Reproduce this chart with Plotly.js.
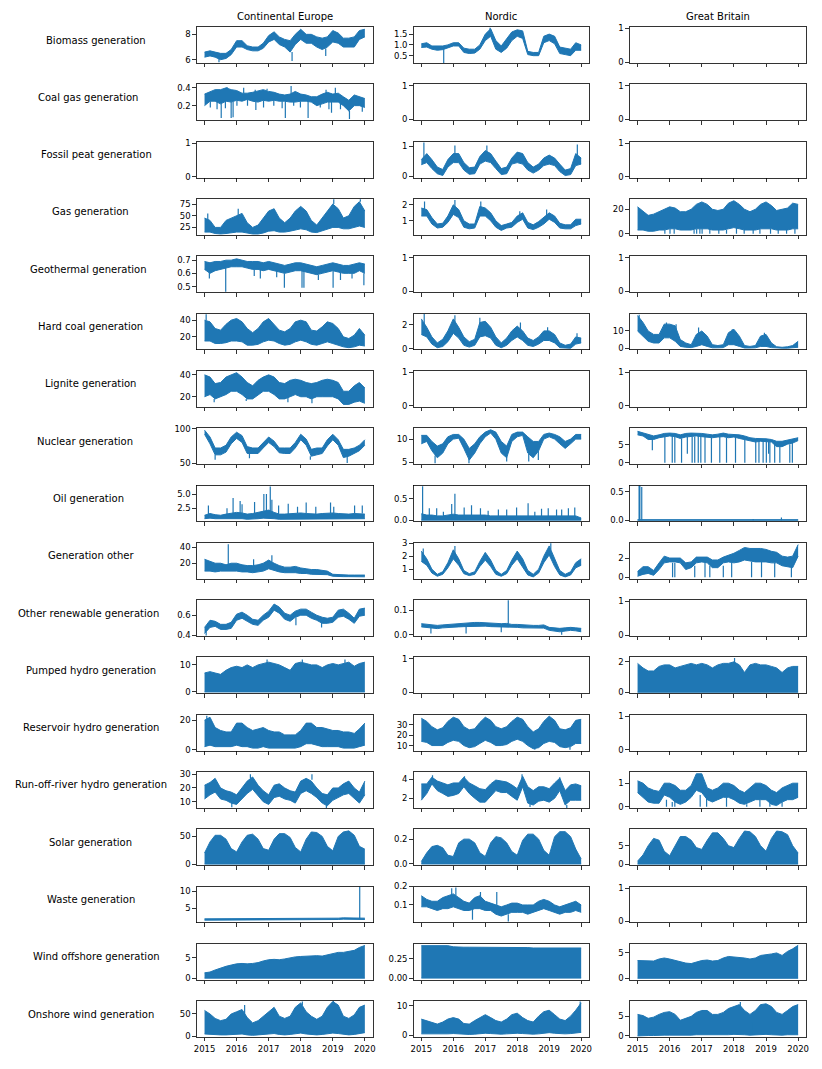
<!DOCTYPE html>
<html><head><meta charset="utf-8">
<script src="https://cdn.plot.ly/plotly-3.0.1.min.js"></script>
<style>html,body{margin:0;padding:0;background:#fff}#chart{width:822px;height:1069px}</style>
</head><body><div id="chart"></div>
<script>
// ---------- shared axes / labels ----------
const t = [2015.00,2015.17,2015.33,2015.50,2015.67,2015.83,2016.00,2016.17,2016.33,2016.50,2016.67,2016.83,2017.00,2017.17,2017.33,2017.50,2017.67,2017.83,2018.00,2018.17,2018.33,2018.50,2018.67,2018.83,2019.00,2019.17,2019.33,2019.50,2019.67,2019.83,2020.00];
const yearTicks = [2015,2016,2017,2018,2019,2020];
const regions = ["Continental Europe","Nordic","Great Britain"];
const rowLabels = ["Biomass generation","Coal gas generation","Fossil peat generation","Gas generation","Geothermal generation","Hard coal generation","Lignite generation","Nuclear generation","Oil generation","Generation other","Other renewable generation","Pumped hydro generation","Reservoir hydro generation","Run-off-river hydro generation","Solar generation","Waste generation","Wind offshore generation","Onshore wind generation"];
const zeros = [0,0,0,0,0,0,0,0,0,0,0,0,0,0,0,0,0,0,0,0,0,0,0,0,0,0,0,0,0,0,0];

// ---------- Continental Europe ----------
const ce_biomass_hi = [6.6,6.7,6.6,6.5,6.5,6.8,7.5,7.5,7.1,7.0,7.0,7.3,7.9,8.2,7.8,7.6,7.5,8.0,8.4,8.0,8.0,7.8,7.7,7.8,8.3,8.1,7.7,7.7,7.8,8.3,8.4];
const ce_biomass_lo = [6.2,6.3,6.2,6.0,6.1,6.4,7.0,7.0,6.8,6.7,6.7,6.9,7.4,7.6,7.2,7.0,6.6,7.2,7.6,7.3,7.3,7.0,6.8,7.0,7.4,7.3,7.0,7.0,7.0,7.6,7.8];
const ce_biomass_spk = [[2015.45,6.1,5.8],[2017.73,6.6,5.9],[2018.78,6.9,6.3]];

const ce_coalgas_hi = [0.33,0.36,0.38,0.38,0.40,0.38,0.37,0.34,0.34,0.35,0.37,0.38,0.36,0.35,0.33,0.32,0.33,0.36,0.33,0.32,0.30,0.30,0.33,0.35,0.33,0.34,0.30,0.26,0.32,0.30,0.28];
const ce_coalgas_lo = [0.20,0.25,0.25,0.22,0.25,0.24,0.26,0.25,0.27,0.25,0.24,0.26,0.25,0.26,0.25,0.25,0.24,0.24,0.25,0.25,0.24,0.20,0.22,0.24,0.24,0.24,0.20,0.14,0.20,0.20,0.18];
const ce_coalgas_spk = [[2015.18,0.25,0.18],[2015.39,0.25,0.16],[2015.52,0.22,0.06],[2015.65,0.25,0.17],[2015.70,0.38,0.41],[2015.83,0.24,0.06],[2015.89,0.24,0.07],[2016.01,0.26,0.20],[2016.22,0.34,0.40],[2016.34,0.27,0.20],[2016.58,0.35,0.38],[2016.60,0.24,0.15],[2016.84,0.26,0.18],[2016.95,0.37,0.39],[2017.16,0.26,0.20],[2017.42,0.25,0.17],[2017.52,0.25,0.06],[2017.70,0.32,0.42],[2017.78,0.24,0.20],[2017.99,0.25,0.18],[2018.23,0.25,0.06],[2018.61,0.22,0.18],[2018.79,0.34,0.38],[2018.88,0.24,0.16],[2018.96,0.24,0.12],[2019.08,0.33,0.40],[2019.24,0.24,0.16],[2019.52,0.14,0.05],[2019.92,0.20,0.13]];

const ce_gas_hi = [45,40,25,25,40,45,50,55,35,25,30,45,60,65,45,35,45,60,70,60,40,30,45,60,75,65,45,50,70,80,60];
const ce_gas_lo = [15,15,12,11,12,14,15,15,13,11,11,13,17,18,15,15,17,20,22,20,15,14,18,22,25,25,22,22,25,28,25];
const ce_gas_spk = [[2015.10,40,55],[2016.05,50,65],[2019.03,75,85],[2019.86,80,85]];

const ce_geo_hi = [0.69,0.68,0.69,0.69,0.70,0.70,0.71,0.70,0.69,0.69,0.69,0.68,0.69,0.68,0.67,0.66,0.67,0.68,0.68,0.67,0.66,0.65,0.66,0.67,0.68,0.67,0.66,0.66,0.67,0.68,0.67];
const ce_geo_lo = [0.63,0.60,0.62,0.63,0.64,0.65,0.65,0.65,0.64,0.63,0.63,0.62,0.63,0.62,0.61,0.60,0.61,0.62,0.62,0.61,0.60,0.59,0.60,0.61,0.62,0.61,0.60,0.60,0.60,0.62,0.60];
const ce_geo_spk = [[2015.15,0.61,0.56],[2015.66,0.64,0.46],[2016.55,0.63,0.58],[2016.74,0.63,0.56],[2017.25,0.62,0.57],[2017.49,0.60,0.49],[2018.04,0.62,0.49],[2018.10,0.62,0.49],[2018.55,0.59,0.55],[2019.01,0.62,0.49],[2019.24,0.61,0.55],[2019.60,0.60,0.56],[2019.97,0.60,0.51]];

const ce_hardcoal_hi = [40,38,30,28,35,40,42,38,30,25,30,38,42,35,28,26,30,38,40,38,28,27,32,38,36,30,20,18,22,30,22];
const ce_hardcoal_lo = [15,15,12,12,13,15,15,14,10,10,11,14,16,15,12,10,11,14,16,14,11,10,12,14,12,10,8,7,8,10,9];
const ce_hardcoal_spk = [[2015.05,40,47]];

const ce_lignite_hi = [40,38,32,33,38,40,42,38,33,30,35,38,40,38,33,32,35,36,35,33,32,33,35,36,35,33,25,25,30,33,28];
const ce_lignite_lo = [20,22,18,20,22,25,25,22,18,18,22,25,25,22,18,18,20,22,20,20,18,20,20,20,20,18,13,13,15,16,14];
const ce_lignite_spk = [[2015.30,18,15],[2016.30,18,16],[2017.60,20,15],[2018.35,18,14]];

const ce_nuclear_hi = [98,88,72,72,76,88,95,90,74,72,72,80,88,82,72,72,72,80,92,85,70,72,72,84,92,84,70,70,72,76,84];
const ce_nuclear_lo = [92,78,62,62,66,78,86,80,64,64,64,72,80,74,65,64,64,72,84,76,60,62,64,75,84,76,58,60,64,68,76];
const ce_nuclear_spk = [[2015.33,62,55],[2016.40,64,57],[2018.30,60,55],[2019.45,60,50]];

const ce_oil_hi = [1.3,1.6,1.4,1.3,1.5,1.6,1.8,1.7,1.5,1.6,1.8,2.0,2.2,1.8,1.5,1.5,1.6,1.7,1.7,1.6,1.5,1.5,1.6,1.7,1.7,1.6,1.5,1.5,1.6,1.6,1.5];
const ce_oil_lo = [0.7,0.8,0.7,0.7,0.7,0.8,0.8,0.7,0.6,0.6,0.7,0.8,0.8,0.7,0.6,0.6,0.6,0.7,0.7,0.7,0.6,0.6,0.6,0.7,0.7,0.7,0.6,0.6,0.6,0.7,0.7];
const ce_oil_spk = [[2015.12,1.5,3.0],[2015.70,1.5,2.5],[2015.89,1.6,4.3],[2016.11,1.7,3.8],[2016.17,1.7,3.2],[2016.56,1.6,3.6],[2016.85,2.0,5.0],[2016.93,2.0,5.0],[2017.05,2.0,6.3],[2017.10,1.8,4.0],[2017.31,1.5,3.0],[2017.61,1.5,3.3],[2017.90,1.7,2.8],[2018.17,1.6,3.5],[2018.47,1.5,2.8],[2018.93,1.7,3.5],[2019.03,1.7,2.8],[2019.68,1.6,3.0],[2019.92,1.6,3.0]];

const ce_other_hi = [25,22,20,20,18,20,20,18,17,17,18,20,24,20,17,15,15,16,14,13,12,12,11,10,6,5.5,5,5,5,5,5];
const ce_other_lo = [10,10,9,10,10,10,10,9,9,8,9,10,13,11,9,8,8,8,7,7,6,6,6,5.5,3.5,3,3,3,3,2.8,2.8];
const ce_other_spk = [[2015.74,18,44],[2016.53,17,25],[2017.10,22,30]];

const ce_otherren_hi = [0.48,0.55,0.54,0.51,0.51,0.53,0.61,0.63,0.60,0.56,0.55,0.60,0.64,0.71,0.68,0.62,0.60,0.64,0.66,0.66,0.63,0.60,0.58,0.57,0.58,0.65,0.66,0.62,0.57,0.66,0.67];
const ce_otherren_lo = [0.42,0.48,0.49,0.46,0.46,0.47,0.55,0.57,0.54,0.51,0.50,0.55,0.58,0.65,0.62,0.56,0.54,0.58,0.60,0.60,0.57,0.55,0.52,0.52,0.53,0.58,0.59,0.56,0.52,0.59,0.60];
const ce_otherren_spk = [[2015.05,0.44,0.40],[2017.85,0.58,0.50],[2018.65,0.54,0.48]];

const ce_pumped_hi = [7,7.5,7,6.5,8,9,9.5,9,10,9,10,10.5,11,10.5,10,9,8,10.5,11,10.5,10,10,9,10,10.5,10,10.5,11,9.5,10.5,11];
const ce_pumped_spk = [[2016.95,10,12],[2018.05,10,12],[2019.38,10,12]];

const ce_reservoir_hi = [20,22,15,13,12,12,18,18,15,13,14,15,13,12,12,10,10,10,13,18,18,15,15,14,13,13,12,12,11,14,18];
const ce_reservoir_lo = [2,3,2,2,1.5,2,3,2,2,1,1,2,1,1,1,1,0.5,1,2,4,4,3,2,2,2,2,1,1,1,2,3];
const ce_reservoir_spk = [[2015.07,18,23]];

const ce_ror_hi = [22,24,27,20,18,17,15,20,25,28,22,18,15,22,23,20,18,17,25,27,25,20,16,15,20,20,23,25,20,17,25];
const ce_ror_lo = [12,15,17,12,11,9,8,12,16,19,14,10,8,13,14,12,11,9,16,18,16,13,9,7,11,13,15,16,12,9,15];
const ce_ror_spk = [[2015.85,9,6],[2016.43,27,30],[2018.35,26,30],[2018.80,8,5]];

const ce_solar_hi = [20,40,52,52,45,28,22,40,52,54,45,28,25,45,55,55,48,30,22,45,58,57,50,32,24,50,58,60,52,32,27];

const ce_waste_hi = [1.8,1.8,1.8,1.8,1.8,1.8,1.9,1.9,1.9,1.9,1.9,1.9,1.9,1.9,1.9,1.9,2.0,2.0,2.0,2.0,2.0,1.9,2.0,2.0,2.0,2.0,2.1,2.1,2.1,2.1,2.0];
const ce_waste_lo = [1.4,1.4,1.4,1.4,1.4,1.4,1.5,1.5,1.5,1.5,1.5,1.5,1.5,1.5,1.5,1.5,1.6,1.6,1.6,1.6,1.6,1.4,1.6,1.6,1.6,1.6,1.7,1.7,1.7,1.7,1.6];
const ce_waste_spk = [[2019.84,1.7,11.5]];

const ce_windoff_hi = [1.3,1.5,2.0,2.5,2.9,3.2,3.5,3.6,3.5,3.6,3.8,4.2,4.5,4.6,4.5,4.7,5.0,5.2,5.3,5.4,5.5,5.5,5.4,5.7,6.0,6.3,6.3,6.5,6.8,7.5,8.0];

const ce_windon_hi = [58,50,40,35,38,50,55,60,42,30,35,45,55,65,45,40,45,65,75,55,45,38,45,65,78,70,45,40,48,65,70];
const ce_windon_lo = [5,4,3,3,3,4,5,5,3,2,3,4,5,6,4,3,4,6,7,5,4,3,4,6,7,6,4,3,4,6,8];
const ce_windon_spk = [[2016.25,45,70],[2018.05,70,78],[2019.02,70,80]];

// ---------- Nordic ----------
const no_biomass_hi = [1.05,1.1,0.95,0.95,0.95,1.0,1.1,1.1,0.85,0.8,0.8,1.0,1.5,1.75,1.2,0.95,1.3,1.6,1.7,1.65,0.7,0.65,0.65,1.4,1.5,1.4,0.9,0.85,0.8,1.1,1.0];
const no_biomass_lo = [0.88,0.9,0.8,0.75,0.78,0.85,0.95,0.95,0.65,0.6,0.62,0.8,1.2,1.4,0.8,0.65,0.85,1.2,1.4,1.3,0.55,0.5,0.5,1.1,1.2,1.05,0.6,0.55,0.5,0.75,0.75];
const no_biomass_spk = [[2015.70,0.8,0.16],[2017.15,1.6,1.8]];

const no_peat_hi = [0.55,0.75,0.55,0.3,0.22,0.55,0.75,0.75,0.45,0.28,0.3,0.65,0.85,0.75,0.5,0.25,0.3,0.6,0.8,0.75,0.45,0.3,0.4,0.6,0.7,0.6,0.4,0.2,0.25,0.75,0.6];
const no_peat_lo = [0.38,0.45,0.25,0.08,0.02,0.3,0.45,0.45,0.2,0.06,0.08,0.4,0.5,0.45,0.25,0.05,0.08,0.4,0.45,0.4,0.2,0.1,0.2,0.35,0.4,0.35,0.15,0.02,0.05,0.35,0.4];
const no_peat_spk = [[2015.08,0.6,1.12],[2016.05,0.7,1.02],[2017.05,0.8,1.02],[2019.88,0.7,1.05]];

const no_gas_hi = [1.8,1.7,1.2,0.8,0.85,1.3,2.0,1.7,1.0,0.8,0.8,1.9,1.8,1.5,1.0,0.7,0.8,0.9,1.3,1.5,0.9,0.75,0.95,1.2,1.5,1.3,0.85,0.75,0.75,1.1,1.1];
const no_gas_lo = [1.3,1.3,0.8,0.55,0.6,0.9,1.4,1.2,0.6,0.5,0.55,1.3,1.3,1.0,0.6,0.4,0.55,0.6,0.9,1.1,0.55,0.45,0.6,0.8,1.1,0.9,0.55,0.5,0.5,0.7,0.8];
const no_gas_spk = [[2015.10,1.6,2.2],[2016.05,1.6,2.3],[2016.86,1.7,2.2],[2018.08,1.3,1.6],[2018.92,1.2,1.7]];

const no_hardcoal_hi = [2.5,1.8,1.0,0.5,0.8,1.5,2.5,1.8,1.0,0.6,0.8,2.2,2.3,1.8,1.0,0.5,0.9,1.5,1.9,1.5,0.9,0.7,1.0,1.5,1.5,1.2,0.5,0.3,0.4,1.0,0.9];
const no_hardcoal_lo = [1.2,1.0,0.4,0.1,0.2,0.6,1.3,0.9,0.3,0.15,0.3,1.0,1.1,0.9,0.3,0.1,0.3,0.7,1.0,0.7,0.3,0.2,0.4,0.7,0.7,0.5,0.1,0.05,0.05,0.4,0.5];
const no_hardcoal_spk = [[2015.09,2.0,2.9],[2016.05,2.2,2.8],[2016.83,2.0,2.6],[2018.10,1.6,2.2],[2018.95,1.4,1.8],[2019.87,0.9,1.3]];

const no_nuclear_hi = [10.8,10.8,9.5,8.5,9.0,10.5,11.0,11.0,10.0,8.0,9.0,10.5,11.5,12.0,11.5,9.5,8.5,11.0,11.5,11.5,10.5,9.5,9.5,11.0,11.3,11.0,10.5,9.5,10.0,11.0,11.0];
const no_nuclear_lo = [9.0,9.5,7.5,6.0,7.0,9.0,10.0,10.2,8.0,5.5,7.0,9.0,10.5,11.3,10.0,7.0,6.0,9.5,10.5,10.8,7.0,6.0,7.5,10.0,10.5,10.0,9.0,8.0,9.0,10.0,10.0];
const no_nuclear_spk = [[2015.43,6.5,4.8],[2016.49,5.8,4.8],[2017.67,6.2,5.2],[2018.36,6.8,5.2],[2018.66,7.5,5.5]];

const no_oil_hi = [0.15,0.12,0.12,0.1,0.1,0.12,0.14,0.12,0.12,0.13,0.12,0.12,0.12,0.1,0.1,0.1,0.1,0.11,0.11,0.1,0.1,0.1,0.1,0.11,0.11,0.1,0.1,0.1,0.1,0.1,0.05];
const no_oil_spk = [[2015.04,0.1,0.8],[2015.25,0.1,0.28],[2015.48,0.1,0.28],[2015.69,0.1,0.2],[2015.95,0.1,0.38],[2016.05,0.1,0.62],[2016.34,0.1,0.3],[2016.57,0.1,0.35],[2016.85,0.1,0.28],[2017.09,0.1,0.22],[2017.41,0.1,0.25],[2017.67,0.1,0.25],[2017.98,0.1,0.3],[2018.34,0.1,0.4],[2018.55,0.1,0.2],[2018.76,0.1,0.27],[2018.97,0.1,0.28],[2019.23,0.1,0.25],[2019.39,0.1,0.25],[2019.60,0.1,0.28],[2019.80,0.1,0.3]];

const no_other_hi = [2.4,1.8,1.0,0.6,0.8,1.5,2.5,1.8,0.9,0.65,0.8,1.6,2.3,1.7,0.9,0.6,0.9,1.7,2.4,1.8,0.9,0.6,1.0,2.0,2.8,1.8,0.9,0.6,0.8,1.5,1.8];
const no_other_lo = [1.6,1.3,0.7,0.45,0.6,1.1,1.8,1.3,0.65,0.5,0.6,1.2,1.7,1.2,0.6,0.45,0.65,1.3,1.8,1.2,0.55,0.4,0.7,1.5,2.1,1.2,0.55,0.4,0.55,1.1,1.3];
const no_other_spk = [[2015.06,2.0,2.6],[2016.05,2.2,2.8],[2019.05,2.5,3.0]];

const no_otherren_hi = [0.045,0.042,0.04,0.038,0.04,0.042,0.044,0.044,0.046,0.048,0.05,0.05,0.048,0.046,0.046,0.045,0.046,0.042,0.042,0.04,0.04,0.038,0.038,0.04,0.03,0.028,0.026,0.028,0.03,0.028,0.026];
const no_otherren_lo = [0.032,0.03,0.028,0.025,0.028,0.03,0.032,0.032,0.033,0.034,0.035,0.036,0.035,0.033,0.033,0.032,0.032,0.03,0.03,0.028,0.028,0.027,0.026,0.027,0.018,0.015,0.012,0.015,0.018,0.016,0.012];
const no_otherren_spk = [[2015.30,0.03,0.005],[2016.40,0.033,0.005],[2017.50,0.032,0.01],[2017.72,0.045,0.14],[2019.39,0.012,0.0]];

const no_reservoir_hi = [36,33,28,25,27,33,37,35,28,25,26,32,37,34,28,26,28,33,37,35,28,23,26,33,38,34,26,25,27,34,35];
const no_reservoir_lo = [14,13,10,10,10,13,15,14,10,8,9,12,15,13,10,10,11,14,16,14,10,7,8,12,14,13,9,8,9,12,12];
const no_reservoir_spk = [[2018.55,8,6],[2019.65,9,6]];

const no_ror_hi = [3.5,3.5,4.2,3.8,3.6,3.4,3.6,3.6,4.2,3.6,3.3,3.0,2.9,3.5,3.9,3.8,3.7,3.4,3.0,4.3,3.2,2.8,3.2,3.2,3.0,3.6,4.1,2.8,3.4,3.5,3.3];
const no_ror_lo = [1.8,2.5,3.5,2.8,2.5,2.2,2.3,2.5,3.2,2.5,2.0,1.6,1.6,2.2,2.8,2.6,2.6,2.2,1.8,3.2,1.5,1.3,1.7,1.8,1.6,2.0,2.8,1.3,1.8,1.8,1.8];
const no_ror_spk = [[2015.35,3.8,4.4],[2016.35,3.8,4.3],[2018.15,3.8,4.5],[2018.40,1.5,1.1],[2019.33,3.2,4.2],[2019.55,1.3,1.0]];

const no_solar_hi = [0.02,0.09,0.14,0.15,0.13,0.07,0.06,0.17,0.2,0.2,0.17,0.09,0.06,0.17,0.22,0.21,0.17,0.1,0.07,0.19,0.24,0.24,0.2,0.11,0.07,0.22,0.26,0.26,0.22,0.12,0.04];

const no_waste_hi = [0.15,0.13,0.12,0.12,0.14,0.15,0.16,0.14,0.12,0.11,0.14,0.15,0.12,0.11,0.1,0.09,0.1,0.11,0.11,0.1,0.1,0.1,0.12,0.13,0.12,0.1,0.09,0.1,0.11,0.12,0.1];
const no_waste_lo = [0.09,0.09,0.08,0.07,0.08,0.08,0.09,0.08,0.07,0.07,0.08,0.08,0.07,0.07,0.05,0.04,0.05,0.06,0.06,0.06,0.05,0.06,0.07,0.08,0.07,0.06,0.05,0.06,0.06,0.07,0.06];
const no_waste_spk = [[2015.95,0.14,0.19],[2016.08,0.15,0.195],[2016.60,0.08,0.02],[2016.85,0.14,0.17],[2017.36,0.1,0.17],[2017.72,0.05,0.01]];

const no_windoff_hi = [0.42,0.42,0.42,0.42,0.42,0.42,0.405,0.40,0.40,0.40,0.40,0.40,0.40,0.40,0.40,0.40,0.40,0.40,0.395,0.395,0.395,0.39,0.39,0.39,0.39,0.39,0.39,0.39,0.39,0.39,0.39];

const no_windon_hi = [5.5,5,4.5,3.8,4.5,5.5,6,5.5,4,3.8,5,6,7,6,5,4.5,5.5,7,7.5,6,5,4.5,6.5,8,8.5,7,5.5,5,6.5,8.5,11];
const no_windon_lo = [0.5,0.5,0.4,0.3,0.4,0.5,0.6,0.5,0.3,0.3,0.4,0.6,0.7,0.6,0.4,0.4,0.5,0.7,0.7,0.6,0.4,0.4,0.5,0.8,0.9,0.7,0.5,0.5,0.6,0.8,1];
const no_windon_spk = [[2019.97,9,11.5]];

// ---------- Great Britain ----------
const gb_gas_hi = [22,18,15,16,18,20,22,21,18,18,20,24,26,24,20,19,20,25,27,24,20,18,20,24,26,23,19,20,21,25,24];
const gb_gas_lo = [3,3,2,2,3,3,4,4,3,3,3,4,4,4,3,3,3,4,5,4,3,3,3,4,4,4,3,3,3,4,4];
const gb_gas_spk = [[2015.85,3,0],[2016.01,4,0],[2016.14,4,0],[2016.76,3,0],[2016.84,4,0],[2016.94,4,0],[2017.01,4,0],[2017.25,4,0],[2017.53,3,0],[2017.77,3,0],[2018.08,5,0],[2018.32,3,0],[2018.60,3,0],[2018.81,4,0],[2019.14,4,0],[2019.38,3,0],[2019.64,3,0],[2019.90,4,0]];

const gb_hardcoal_hi = [19,15,10,8,8,14,14,13,5,3,2,8,10,7,2,1.5,2,9,11,7,1.5,1,1.5,7,8,3,0.8,0.5,0.8,1.5,4];
const gb_hardcoal_lo = [10,7,4,3,3,6,6,4,1,0.5,0.3,1,2,1,0.2,0.2,0.3,2,2,1,0.1,0.1,0.2,1,1,0.3,0,0,0,0.1,0.5];
const gb_hardcoal_spk = [[2015.05,15,19.5],[2015.90,12,15],[2016.20,10,14],[2016.90,8,12],[2017.95,9,11],[2018.95,6,9]];

const gb_nuclear_hi = [8.8,8.3,7.8,7.5,7.8,8.2,8.3,8.2,7.8,8.2,8.3,8.3,8.2,8.0,7.8,8.0,8.3,8.0,8.0,7.8,7.5,7.0,6.8,6.8,6.7,6.5,6.0,6.0,6.3,6.5,7.0];
const gb_nuclear_lo = [7.8,7.5,6.5,6.5,7.0,7.3,7.5,7.3,6.8,7.2,7.3,7.5,7.3,7.2,7.0,7.2,7.3,7.0,7.2,6.8,6.5,6.0,5.8,6.0,6.0,5.8,4.5,4.5,5.2,5.5,6.2];
const gb_nuclear_spk = [[2015.46,6.5,3.5],[2015.85,7.3,0],[2016.08,7.5,0],[2016.16,7.3,0],[2016.37,6.8,0],[2016.55,7.2,2.5],[2016.70,7.3,0],[2016.78,7.3,0],[2016.89,7.5,0],[2016.97,7.5,0],[2017.10,7.3,0],[2017.30,7.0,0],[2017.56,7.2,0],[2017.77,7.0,0],[2018.05,7.2,0],[2018.34,6.5,0],[2018.68,5.8,0],[2018.78,6.0,0],[2018.91,6.0,0],[2019.01,6.0,0],[2019.08,6.0,2.5],[2019.12,5.8,0],[2019.27,5.5,0],[2019.43,4.5,0],[2019.74,5.2,0],[2019.82,5.5,0]];

const gb_oil_hi = [0.01,0.01,0.01,0.01,0.01,0.01,0.01,0.01,0.01,0.01,0.01,0.01,0.01,0.01,0.01,0.01,0.01,0.01,0.01,0.01,0.01,0.01,0.01,0.01,0.01,0.01,0.01,0.01,0.01,0.01,0.01];
const gb_oil_spk = [[2015.05,0,0.61],[2015.06,0,0.61],[2015.07,0,0.61],[2015.13,0,0.58],[2018.60,0,0.02],[2019.48,0,0.05]];

const gb_other_hi = [0.6,1.1,1.1,0.7,1.5,2.2,2.0,2.0,2.0,1.5,1.6,2.1,2.1,2.1,1.8,1.8,2.1,2.3,2.5,2.8,3.1,3.0,3.0,3.0,2.9,2.7,2.6,2.2,2.1,2.2,3.4];
const gb_other_lo = [0.1,0.3,0.4,0.2,0.8,1.5,1.6,1.6,1.5,0.8,1.0,1.5,1.6,1.5,1.0,1.0,1.5,1.6,1.5,1.6,1.8,1.7,1.6,1.6,1.6,1.5,1.5,1.2,1.1,1.0,2.2];
const gb_other_spk = [[2016.09,1.5,0],[2016.16,1.5,0],[2016.78,1.2,0],[2017.10,1.5,0],[2017.25,1.2,0],[2017.67,1.2,0],[2017.93,1.5,0],[2018.55,1.6,0],[2018.86,1.6,0],[2019.27,1.5,0],[2019.79,1.0,0]];

const gb_pumped_hi = [1.9,1.6,1.4,1.4,1.7,1.8,1.8,1.6,1.7,1.8,1.9,1.8,1.9,1.8,1.6,1.8,1.9,1.9,2.0,1.8,1.3,1.8,1.9,1.8,1.8,1.7,1.6,1.3,1.6,1.7,1.7];
const gb_pumped_spk = [[2018.02,1.9,2.25]];

const gb_ror_hi = [1.1,1.0,0.8,0.7,0.65,1.0,1.0,0.9,0.7,0.7,0.9,1.4,1.4,0.8,0.7,0.8,1.0,1.0,0.9,0.7,0.6,0.8,1.0,1.0,0.9,0.7,0.6,0.8,0.9,1.0,1.0];
const gb_ror_lo = [0.6,0.4,0.2,0.15,0.15,0.5,0.4,0.2,0.1,0.2,0.4,0.7,0.6,0.3,0.2,0.3,0.4,0.4,0.3,0.15,0.1,0.2,0.3,0.3,0.3,0.1,0.05,0.2,0.3,0.3,0.4];
const gb_ror_spk = [[2015.90,0.3,0],[2016.08,0.2,0],[2016.16,0.2,0],[2016.95,0.5,0],[2017.15,0.4,0],[2017.77,0.4,0],[2018.40,0.1,0],[2018.81,0.3,0],[2019.12,0.3,0],[2019.50,0.2,0]];

const gb_solar_hi = [0.8,2.5,5,7,6.5,3.5,2.3,5,7.5,7.5,6.5,4.5,4,6.5,8.5,8.5,7,5,4.5,7,9,8.8,7.5,5,3.5,7,9,8.8,8,5,3];

const gb_windoff_hi = [3.5,3.5,3.5,3.4,3.8,4.0,3.8,3.5,3.2,3.0,2.9,3.2,3.5,3.6,3.4,3.5,4.0,4.3,4.2,4.2,4.0,3.8,4.0,4.5,4.6,4.8,5.0,4.5,5.3,5.8,6.5];

const gb_windon_hi = [5.5,5.2,4.5,4.8,5.5,6.0,6.2,5.5,4.0,4.5,5.0,6.0,6.5,6.5,5.5,5.5,6.0,7.0,7.5,8.0,6.5,5.5,6.5,8.0,8.2,7.5,6.0,5.5,6.5,7.5,8.0];
const gb_windon_lo = [0,0.1,0.1,0.1,0.2,0.2,0.2,0.2,0.1,0.1,0.2,0.3,0.3,0.3,0.2,0.2,0.3,0.3,0.4,0.4,0.3,0.2,0.3,0.4,0.4,0.3,0.2,0.2,0.3,0.3,0.3];
const gb_windon_spk = [[2018.20,7.5,8.7],[2018.55,0.3,3.5]];

// ---------- panel registry (row, column -> series + axis scale) ----------
const panels = [
  {r:0,c:0,hi:ce_biomass_hi,lo:ce_biomass_lo,spk:ce_biomass_spk,yr:[5.74,8.58],tv:[6,8],tt:['6','8']},
  {r:1,c:0,hi:ce_coalgas_hi,lo:ce_coalgas_lo,spk:ce_coalgas_spk,yr:[0.035,0.44],tv:[0.2,0.4],tt:['0.2','0.4']},
  {r:3,c:0,hi:ce_gas_hi,lo:ce_gas_lo,spk:ce_gas_spk,yr:[9,86],tv:[25,50,75],tt:['25','50','75']},
  {r:4,c:0,hi:ce_geo_hi,lo:ce_geo_lo,spk:ce_geo_spk,yr:[0.457,0.73],tv:[0.5,0.6,0.7],tt:['0.5','0.6','0.7']},
  {r:5,c:0,hi:ce_hardcoal_hi,lo:ce_hardcoal_lo,spk:ce_hardcoal_spk,yr:[4.8,48],tv:[20,40],tt:['20','40']},
  {r:6,c:0,hi:ce_lignite_hi,lo:ce_lignite_lo,spk:ce_lignite_spk,yr:[10.8,43.7],tv:[20,40],tt:['20','40']},
  {r:7,c:0,hi:ce_nuclear_hi,lo:ce_nuclear_lo,spk:ce_nuclear_spk,yr:[48.5,101],tv:[50,100],tt:['50','100']},
  {r:8,c:0,hi:ce_oil_hi,lo:ce_oil_lo,spk:ce_oil_spk,yr:[0.23,6.5],tv:[2.5,5.0],tt:['2.5','5.0']},
  {r:9,c:0,hi:ce_other_hi,lo:ce_other_lo,spk:ce_other_spk,yr:[0.4,46],tv:[20,40],tt:['20','40']},
  {r:10,c:0,hi:ce_otherren_hi,lo:ce_otherren_lo,spk:ce_otherren_spk,yr:[0.395,0.75],tv:[0.4,0.6],tt:['0.4','0.6']},
  {r:11,c:0,hi:ce_pumped_hi,lo:zeros,spk:ce_pumped_spk,yr:[-0.5,12.8],tv:[0,10],tt:['0','10']},
  {r:12,c:0,hi:ce_reservoir_hi,lo:ce_reservoir_lo,spk:ce_reservoir_spk,yr:[-0.7,23.8],tv:[0,20],tt:['0','20']},
  {r:13,c:0,hi:ce_ror_hi,lo:ce_ror_lo,spk:ce_ror_spk,yr:[5.5,31.7],tv:[10,20,30],tt:['10','20','30']},
  {r:14,c:0,hi:ce_solar_hi,lo:zeros,spk:[],yr:[-2,63],tv:[0,50],tt:['0','50']},
  {r:15,c:0,hi:ce_waste_hi,lo:ce_waste_lo,spk:ce_waste_spk,yr:[0.7,11.5],tv:[5,10],tt:['5','10']},
  {r:16,c:0,hi:ce_windoff_hi,lo:zeros,spk:[],yr:[-0.4,8.4],tv:[0,5],tt:['0','5']},
  {r:17,c:0,hi:ce_windon_hi,lo:ce_windon_lo,spk:ce_windon_spk,yr:[-2,79],tv:[0,50],tt:['0','50']},

  {r:0,c:1,hi:no_biomass_hi,lo:no_biomass_lo,spk:no_biomass_spk,yr:[0.16,1.83],tv:[0.5,1.0,1.5],tt:['0.5','1.0','1.5']},
  {r:2,c:1,hi:no_peat_hi,lo:no_peat_lo,spk:no_peat_spk,yr:[-0.05,1.15],tv:[0,1],tt:['0','1']},
  {r:3,c:1,hi:no_gas_hi,lo:no_gas_lo,spk:no_gas_spk,yr:[0.12,2.37],tv:[1,2],tt:['1','2']},
  {r:5,c:1,hi:no_hardcoal_hi,lo:no_hardcoal_lo,spk:no_hardcoal_spk,yr:[-0.05,2.95],tv:[0,2],tt:['0','2']},
  {r:7,c:1,hi:no_nuclear_hi,lo:no_nuclear_lo,spk:no_nuclear_spk,yr:[4.64,12.36],tv:[5,10],tt:['5','10']},
  {r:8,c:1,hi:no_oil_hi,lo:zeros,spk:no_oil_spk,yr:[-0.03,0.82],tv:[0,0.5],tt:['0.0','0.5']},
  {r:9,c:1,hi:no_other_hi,lo:no_other_lo,spk:no_other_spk,yr:[0.26,3.05],tv:[1,2,3],tt:['1','2','3']},
  {r:10,c:1,hi:no_otherren_hi,lo:no_otherren_lo,spk:no_otherren_spk,yr:[-0.005,0.141],tv:[0,0.1],tt:['0.0','0.1']},
  {r:12,c:1,hi:no_reservoir_hi,lo:no_reservoir_lo,spk:no_reservoir_spk,yr:[5.2,39.5],tv:[10,20,30],tt:['10','20','30']},
  {r:13,c:1,hi:no_ror_hi,lo:no_ror_lo,spk:no_ror_spk,yr:[1.0,4.75],tv:[2,4],tt:['2','4']},
  {r:14,c:1,hi:no_solar_hi,lo:zeros,spk:[],yr:[-0.01,0.28],tv:[0,0.2],tt:['0.0','0.2']},
  {r:15,c:1,hi:no_waste_hi,lo:no_waste_lo,spk:no_waste_spk,yr:[0.005,0.2],tv:[0.1,0.2],tt:['0.1','0.2']},
  {r:16,c:1,hi:no_windoff_hi,lo:zeros,spk:[],yr:[-0.022,0.444],tv:[0,0.25],tt:['0.00','0.25']},
  {r:17,c:1,hi:no_windon_hi,lo:no_windon_lo,spk:no_windon_spk,yr:[-0.6,11.6],tv:[0,10],tt:['0','10']},

  {r:3,c:2,hi:gb_gas_hi,lo:gb_gas_lo,spk:gb_gas_spk,yr:[-1,28.5],tv:[0,20],tt:['0','20']},
  {r:5,c:2,hi:gb_hardcoal_hi,lo:gb_hardcoal_lo,spk:gb_hardcoal_spk,yr:[-0.8,20.2],tv:[0,10],tt:['0','10']},
  {r:7,c:2,hi:gb_nuclear_hi,lo:gb_nuclear_lo,spk:gb_nuclear_spk,yr:[-0.4,9.7],tv:[0,5],tt:['0','5']},
  {r:8,c:2,hi:gb_oil_hi,lo:zeros,spk:gb_oil_spk,yr:[-0.02,0.61],tv:[0,0.5],tt:['0.0','0.5']},
  {r:9,c:2,hi:gb_other_hi,lo:gb_other_lo,spk:gb_other_spk,yr:[-0.15,3.6],tv:[0,2],tt:['0','2']},
  {r:11,c:2,hi:gb_pumped_hi,lo:zeros,spk:gb_pumped_spk,yr:[-0.07,2.3],tv:[0,2],tt:['0','2']},
  {r:13,c:2,hi:gb_ror_hi,lo:gb_ror_lo,spk:gb_ror_spk,yr:[-0.05,1.48],tv:[0,1],tt:['0','1']},
  {r:14,c:2,hi:gb_solar_hi,lo:zeros,spk:[],yr:[-0.3,9.5],tv:[0,5],tt:['0','5']},
  {r:16,c:2,hi:gb_windoff_hi,lo:zeros,spk:[],yr:[-0.3,6.8],tv:[0,5],tt:['0','5']},
  {r:17,c:2,hi:gb_windon_hi,lo:gb_windon_lo,spk:gb_windon_spk,yr:[-0.3,8.9],tv:[0,5],tt:['0','5']}
];

// ---------- build figure ----------
const W = 822, H = 1069;
const COLOR = '#1f77b4';
const colPx = [[196.7,372.7],[413.5,589.0],[629.7,806.0]];
const rowTop0 = 27, rowStep = 57.3, rowH = 36;
const FONT = 'DejaVu Sans, Liberation Sans, sans-serif';
const TICK_PX = 8.5;

// approximate rendered width of a tick label (DejaVu Sans digit/period advance)
function labelWidth(s) {
  let w = 0;
  for (const ch of s) w += (ch === '.' ? 0.318 : 0.636) * TICK_PX;
  return w;
}

const traces = [];
const layout = {
  width: W, height: H, margin: {l:0,r:0,t:0,b:0},
  paper_bgcolor: '#fff', plot_bgcolor: '#fff', showlegend: false,
  font: {family: FONT, color: '#000', size: TICK_PX},
  annotations: []
};

function axStyle() {
  return {showline:true, mirror:true, linecolor:'#000', linewidth:0.8,
          ticks:'outside', ticklen:3.5, tickwidth:0.8, tickcolor:'#000',
          showgrid:false, zeroline:false, fixedrange:true,
          tickfont:{family:FONT, size:TICK_PX, color:'#000'}};
}

for (let r = 0; r < 18; r++) {
  const top = rowTop0 + rowStep * r;
  let firstColTicks = ['0', '1'];
  for (let c = 0; c < 3; c++) {
    const idx = r * 3 + c + 1;
    const xs = idx === 1 ? '' : String(idx);
    const p = panels.find(q => q.r === r && q.c === c);
    if (c === 0 && p) firstColTicks = p.tt;
    const xa = Object.assign(axStyle(), {
      domain: [colPx[c][0] / W, colPx[c][1] / W],
      range: [2014.755, 2020.245], anchor: 'y' + xs,
      tickmode: 'array', tickvals: yearTicks, ticktext: yearTicks.map(String),
      showticklabels: r === 17
    });
    const ya = Object.assign(axStyle(), {
      domain: [1 - (top + rowH) / H, 1 - top / H],
      anchor: 'x' + xs, tickmode: 'array',
      range: p ? p.yr : [-0.03, 1.045],
      tickvals: p ? p.tv : [0, 1],
      ticktext: p ? p.tt : ['0', '1']
    });
    layout['xaxis' + xs] = xa;
    layout['yaxis' + xs] = ya;
    if (p) {
      traces.push({type:'scatter', mode:'lines', x:t, y:p.lo, xaxis:'x'+xs, yaxis:'y'+xs,
                   line:{color:COLOR, width:1}, hoverinfo:'skip'});
      traces.push({type:'scatter', mode:'lines', x:t, y:p.hi, xaxis:'x'+xs, yaxis:'y'+xs,
                   fill:'tonexty', fillcolor:COLOR, line:{color:COLOR, width:1}, hoverinfo:'skip'});
      if (p.spk.length) {
        const sx = [], sy = [];
        p.spk.forEach(s => { sx.push(s[0], s[0], null); sy.push(s[1], s[2], null); });
        traces.push({type:'scatter', mode:'lines', x:sx, y:sy, xaxis:'x'+xs, yaxis:'y'+xs,
                     line:{color:COLOR, width:1.2}, hoverinfo:'skip', connectgaps:false});
      }
    } else {
      traces.push({type:'scatter', mode:'lines', x:[], y:[], xaxis:'x'+xs, yaxis:'y'+xs});
    }
  }
  // row label: centred a fixed distance left of the first-column tick labels
  const wMax = Math.max(...firstColTicks.map(labelWidth));
  const cx = colPx[0][0] - 7 - wMax - 88;
  layout.annotations.push({
    xref:'paper', yref:'paper', x: cx / W, y: 1 - (top + 13) / H,
    xanchor:'center', yanchor:'middle', showarrow:false,
    text: rowLabels[r], font:{family:FONT, size:10, color:'#000'}
  });
}
regions.forEach((name, c) => {
  layout.annotations.push({
    xref:'paper', yref:'paper', x: (colPx[c][0] + colPx[c][1]) / 2 / W, y: 1 - 16.7 / H,
    xanchor:'center', yanchor:'middle', showarrow:false,
    text: name, font:{family:FONT, size:10, color:'#000'}
  });
});

Plotly.newPlot('chart', traces, layout, {staticPlot:true, displayModeBar:false});
</script>
</body></html>
